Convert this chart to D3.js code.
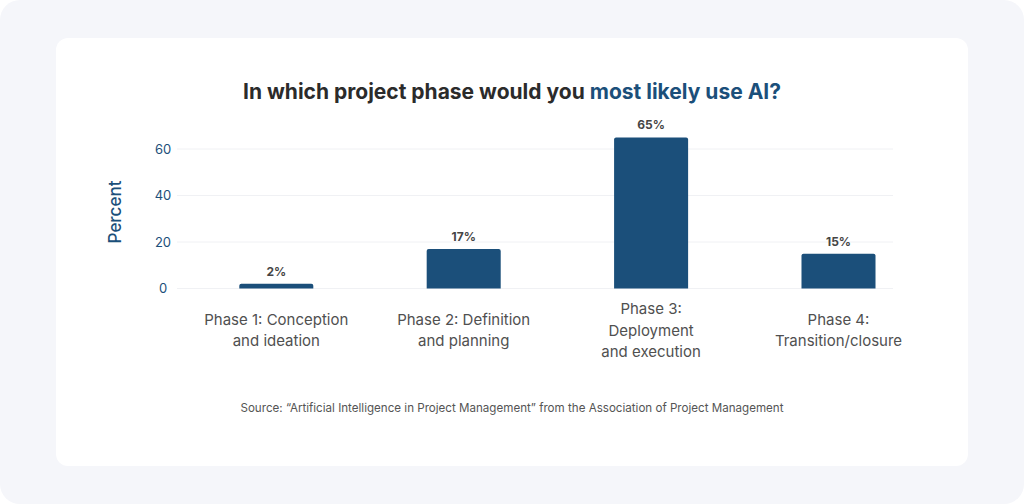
<!DOCTYPE html>
<html>
<head>
<meta charset="utf-8">
<style>
	html, body { margin: 0; padding: 0; background: #ffffff; }
	.outer {
		width: 1024px; height: 504px;
		background: #f5f6fa;
		border-radius: 20px;
		position: relative;
	}
	svg { position: absolute; left: 0; top: 0; font-family: "Inter", "Open Sans", sans-serif; }
</style>
</head>
<body>
<div class="outer"><svg class="chart" width="1024" height="504"></svg></div>

<script src="https://d3js.org/d3.v7.min.js"></script>
<script>

// data
var categories = [
	["Phase 1: Conception", "and ideation"],
	["Phase 2: Definition", "and planning"],
	["Phase 3:", "Deployment", "and execution"],
	["Phase 4:", "Transition/closure"]
];
var percents = [2, 17, 65, 15];
var yTicks = [0, 20, 40, 60];

var blue = "#1b4f7a";

var svg = d3.select(".chart");

// white card
svg.append("rect")
	.attr("x", 56).attr("y", 38)
	.attr("width", 912).attr("height", 428)
	.attr("rx", 12)
	.attr("fill", "#ffffff");

// title
var title = svg.append("text")
	.attr("x", 512).attr("y", 99)
	.attr("text-anchor", "middle")
	.style("font-size", "21px")
	.style("font-weight", 700);
title.append("tspan").attr("fill", "#2b2b2b").text("In which project phase would you ");
title.append("tspan").attr("fill", blue).text("most likely use AI?");

var keys = categories.map(function(d, i) { return i; });

var x = d3.scaleBand()
	.domain(keys)
	.range([182.6, 932.2])
	.paddingInner(0.605)
	.paddingOuter(0.3025);

var y = d3.scaleLinear()
	.domain([0, 60])
	.range([288.5, 149]);

// gridlines
svg.append("g")
	.selectAll("line")
	.data(yTicks)
	.enter().append("line")
	.attr("x1", 177).attr("x2", 893)
	.attr("y1", function(d) { return y(d); })
	.attr("y2", function(d) { return y(d); })
	.attr("stroke", "#f0f1f4")
	.attr("stroke-width", 1);

// y axis labels
var yAxis = d3.axisLeft(y).tickValues(yTicks).tickSize(0).tickPadding(0);
var ag = svg.append("g")
	.attr("transform", "translate(163,0)")
	.call(yAxis);
ag.select(".domain").remove();
ag.selectAll("text")
	.attr("text-anchor", "middle")
	.attr("fill", blue)
	.style("font-size", "13px")
	.style("font-family", "Inter, sans-serif");

svg.append("text")
	.attr("transform", "translate(121,212) rotate(-90)")
	.attr("text-anchor", "middle")
	.attr("fill", blue)
	.style("font-size", "17px")
	.style("font-weight", 500)
	.text("Percent");

// bars
var bar = svg.append("g")
	.selectAll("g")
	.data(percents)
	.enter().append("g");

bar.append("path")
	.attr("fill", blue)
	.attr("d", function(d, i) {
		var x0 = x(i), w = x.bandwidth(), top = y(d), bot = y(0), r = 2;
		return "M" + x0 + "," + bot +
			"V" + (top + r) + "Q" + x0 + "," + top + " " + (x0 + r) + "," + top +
			"H" + (x0 + w - r) + "Q" + (x0 + w) + "," + top + " " + (x0 + w) + "," + (top + r) +
			"V" + bot + "Z";
	});

bar.append("text")
	.attr("x", function(d, i) { return x(i) + x.bandwidth() / 2; })
	.attr("y", function(d) { return y(d) - 8; })
	.attr("text-anchor", "middle")
	.attr("fill", "#454545")
	.style("font-size", "12px")
	.style("font-weight", 700)
	.text(function(d) { return d + "%"; });

// category labels, vertically centred on the same line
var lineH = 21.5;
var lab = svg.append("g")
	.selectAll("text")
	.data(categories)
	.enter().append("text")
	.attr("text-anchor", "middle")
	.attr("fill", "#505050")
	.style("font-size", "15px");

lab.each(function(lines, i) {
	var t = d3.select(this);
	var start = 330.5 - (lines.length - 1) * lineH / 2;
	lines.forEach(function(s, j) {
		t.append("tspan")
			.attr("x", x(i) + x.bandwidth() / 2)
			.attr("y", start + j * lineH + 5)
			.text(s);
	});
});

// source line
svg.append("text")
	.attr("x", 512).attr("y", 412)
	.attr("text-anchor", "middle")
	.attr("fill", "#555555")
	.style("font-size", "11.6px")
	.text("Source: \u201CArtificial Intelligence in Project Management\u201D from the Association of Project Management");

</script>
</body>
</html>
